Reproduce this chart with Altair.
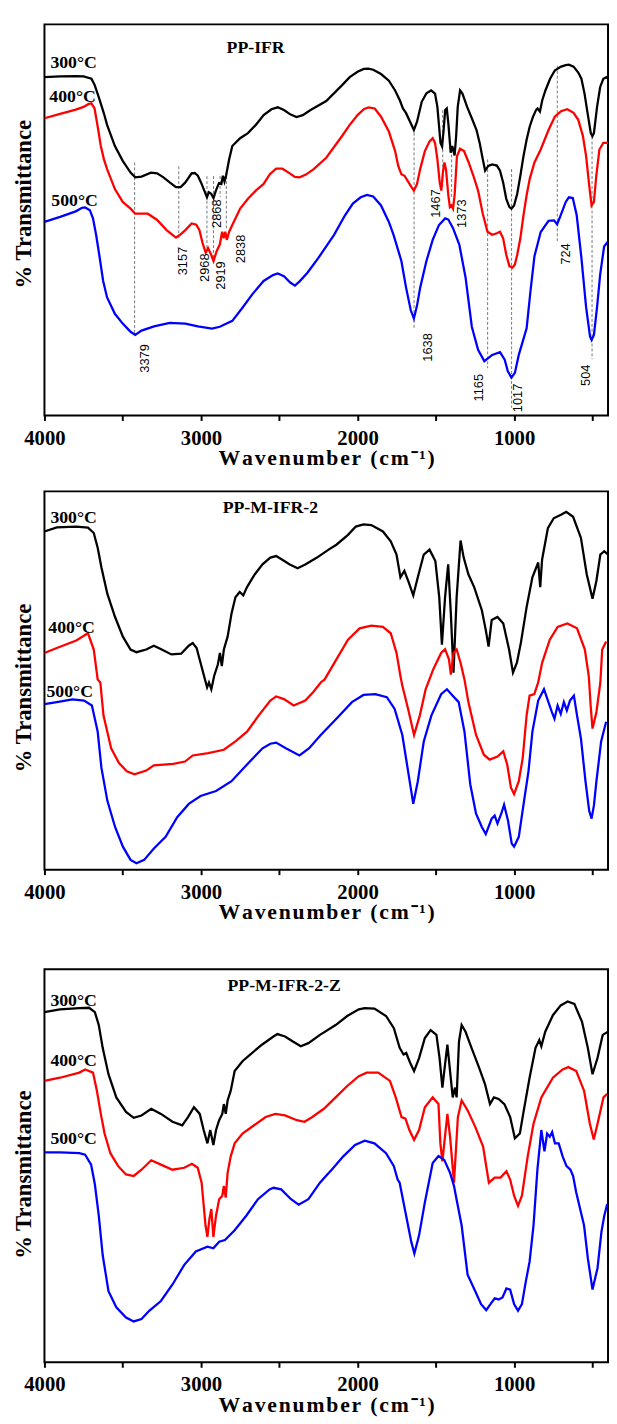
import altair as alt
import pandas as pd

SERIF = "Liberation Serif"
SANS = "Liberation Sans"
TEMPS = ["300°C", "400°C", "500°C"]
COLORS = ["#000000", "#ff0000", "#0000ff"]

# ---------------- Panel 1: PP-IFR  (wavenumber, %T) ----------------
p1_300 = [(4000,86.5),(3900,86.7),(3800,86.8),(3750,86.7),(3700,86.1),(3680,84.6),(3650,81.0),(3620,77.2),(3600,74.3),(3550,68.9),
          (3500,65.1),(3450,62.1),(3420,60.9),(3380,61.1),(3320,62.1),(3280,61.9),(3240,60.9),(3200,59.6),(3160,58.4),(3130,58.4),
          (3100,59.6),(3060,61.9),(3040,62.0),(3020,61.3),(3000,59.6),(2975,57.1),(2962,55.8),(2950,57.1),(2935,56.7),(2920,55.6),
          (2905,57.5),(2885,59.4),(2870,59.2),(2860,61.3),(2850,59.8),(2840,61.3),(2820,65.5),(2800,68.9),(2750,70.9),(2700,72.2),
          (2650,74.3),(2600,76.8),(2550,78.3),(2510,78.8),(2470,78.1),(2430,77.0),(2390,76.3),(2350,76.8),(2300,78.1),(2200,80.4),
          (2100,84.4),(2050,86.5),(2000,87.9),(1960,88.6),(1930,88.7),(1900,88.4),(1850,87.3),(1800,85.6),(1760,83.1),(1730,80.6),
          (1710,78.5),(1690,77.3),(1660,74.7),(1640,73.0),(1620,75.1),(1590,80.2),(1560,82.4),(1530,83.1),(1505,82.3),(1490,78.9),
          (1470,69.7),(1460,68.8),(1450,73.0),(1440,78.1),(1430,78.5),(1420,74.7),(1405,67.2),(1395,68.9),(1380,66.5),(1370,71.5),
          (1360,78.9),(1345,83.1),(1330,82.3),(1300,78.9),(1270,76.0),(1240,73.0),(1220,69.7),(1200,65.5),(1185,62.6),(1165,63.8),
          (1140,64.2),(1110,63.9),(1090,62.6),(1070,59.6),(1050,55.4),(1030,53.3),(1017,52.9),(1000,53.7),(980,56.7),(960,61.3),
          (940,66.3),(920,70.5),(900,73.9),(880,76.3),(860,78.1),(850,78.5),(835,77.7),(820,80.6),(800,83.1),(770,86.1),
          (740,88.2),(700,89.2),(670,89.6),(650,89.7),(620,89.2),(590,87.7),(570,86.1),(550,82.3),(530,77.2),(510,72.2),
          (500,71.4),(490,72.2),(470,78.9),(450,84.0),(430,86.1),(410,86.5),(400,86.1)]

p1_400 = [(4000,76.0),(3900,77.1),(3800,78.2),(3750,78.9),(3720,79.6),(3700,79.8),(3680,78.5),(3660,73.9),(3640,68.9),(3620,65.5),
          (3600,63.0),(3550,57.9),(3500,54.6),(3450,52.9),(3420,51.6),(3380,51.6),(3340,51.6),(3280,50.0),(3220,47.4),(3160,45.5),
          (3130,46.3),(3100,47.4),(3060,49.1),(3030,48.8),(3010,47.4),(2990,44.1),(2970,41.6),(2955,42.8),(2935,41.1),(2920,39.5),
          (2900,42.0),(2880,43.7),(2865,47.0),(2855,45.3),(2845,47.0),(2835,44.9),(2820,47.0),(2800,48.7),(2750,52.9),(2700,55.4),
          (2650,57.5),(2600,59.2),(2560,61.7),(2520,63.1),(2480,63.1),(2440,62.1),(2400,61.0),(2370,60.9),(2330,61.6),(2280,63.0),
          (2200,65.9),(2100,71.4),(2050,74.3),(2000,76.8),(1960,78.3),(1930,78.8),(1890,78.5),(1850,76.4),(1800,72.6),(1760,67.6),
          (1740,63.8),(1720,61.7),(1700,61.3),(1680,60.0),(1655,58.4),(1640,57.5),(1620,59.2),(1600,63.0),(1570,67.6),(1540,70.1),
          (1520,70.9),(1505,69.7),(1490,65.5),(1475,59.6),(1465,57.5),(1455,62.1),(1445,64.7),(1435,62.9),(1420,56.3),(1410,53.3),
          (1400,53.7),(1390,52.9),(1380,56.3),(1365,66.3),(1345,68.2),(1320,67.6),(1290,64.7),(1260,61.3),(1230,57.5),(1200,51.6),
          (1170,47.0),(1140,46.2),(1110,46.6),(1090,47.0),(1070,45.3),(1050,41.1),(1030,38.2),(1010,37.8),(995,38.6),(980,41.1),
          (960,45.3),(940,51.2),(920,56.3),(900,60.5),(870,64.7),(830,68.0),(780,73.0),(740,76.4),(700,77.8),(660,78.3),
          (620,77.4),(590,75.6),(560,71.4),(540,66.3),(520,58.8),(505,53.7),(490,54.6),(475,61.3),(455,68.0),(430,69.7),(400,69.7)]

p1_500 = [(4000,49.5),(3900,50.8),(3800,52.2),(3760,53.1),(3740,53.2),(3710,52.5),(3690,50.4),(3670,46.2),(3650,41.1),(3625,34.4),
          (3600,30.2),(3550,26.0),(3500,23.5),(3450,21.4),(3420,20.6),(3380,21.7),(3300,22.8),(3200,23.7),(3100,23.5),(3020,22.8),
          (2930,22.2),(2880,22.7),(2800,24.2),(2740,27.3),(2670,31.1),(2600,34.4),(2540,35.9),(2510,36.3),(2470,35.6),(2430,34.0),
          (2400,33.2),(2370,34.3),(2320,36.5),(2250,40.3),(2150,46.2),(2080,51.2),(2030,54.2),(1980,55.8),(1940,56.4),(1900,56.0),
          (1850,53.7),(1800,49.5),(1770,46.2),(1720,39.5),(1690,32.7),(1660,26.9),(1640,24.8),(1620,28.1),(1600,32.7),(1560,39.5),
          (1520,44.9),(1480,48.7),(1440,50.4),(1420,50.1),(1390,47.9),(1350,43.7),(1310,35.3),(1270,22.7),(1230,16.8),(1190,13.9),
          (1140,15.5),(1090,16.2),(1060,14.3),(1040,11.3),(1017,9.7),(995,10.9),(970,15.5),(945,18.9),(920,22.3),(895,31.9),
          (870,40.7),(830,46.9),(780,49.8),(745,49.9),(725,48.9),(705,50.9),(670,54.6),(650,55.8),(625,55.6),(600,51.2),
          (570,40.3),(540,27.7),(515,20.2),(505,19.3),(490,20.6),(470,27.7),(450,36.1),(425,43.2),(400,44.5)]

# peak-marker lines (wavenumber, top %T, bottom %T) and their labels (wavenumber, %T, text)
p1_marks = [(3424,64.7,20.7),(3142,63.7,45.3),(2962,61.2,42.8),(2920,61.2,40.3),(2878,61.2,55.9),(2838,61.2,47.4),
            (1639,72.3,22.2),(1456,78.1,58.4),(1399,68.0,55.9),(1169,65.5,12.1),(1016,63.0,2.0),(724,89.4,44.6),(502,71.3,14.4)]
p1_notes = [(3360,14.6,"3379"),(3115,39.5,"3157"),(2977,37.8,"2968"),(2871,35.8,"2919"),(2896,51.6,"2868"),(2745,42.6,"2838"),
            (1547,17.4,"1638"),(1221,7.1,"1165"),(976,4.5,"1017"),(543,10.3,"504"),(669,41.3,"724"),(1497,54.2,"1467"),(1334,51.6,"1373")]
p1_temp_pos = [(3962,90.2),(3969,81.4),(3956,54.9)]
p1_title = (2651, 94.0, "PP-IFR")

# ---------------- Panel 2: PP-M-IFR-2 ----------------
p2_300 = [(4000,89.4),(3921,90.5),(3797,90.7),(3722,90.4),(3685,89.0),(3660,85.1),(3636,79.9),(3598,72.9),(3549,66.8),(3499,61.6),
          (3450,58.2),(3412,57.5),(3350,58.2),(3301,59.2),(3251,58.2),(3189,56.9),(3127,57.1),(3078,59.2),(3053,59.9),(3028,58.6),
          (3003,54.7),(2978,50.8),(2961,48.2),(2949,49.5),(2934,47.7),(2916,51.2),(2892,54.3),(2879,57.3),(2867,53.8),(2854,58.2),
          (2830,61.6),(2805,67.7),(2780,72.0),(2753,73.4),(2730,72.5),(2706,74.7),(2656,78.1),(2607,80.7),(2557,82.5),(2520,82.9),
          (2483,82.0),(2433,80.7),(2383,79.7),(2334,80.7),(2259,82.5),(2185,84.6),(2135,85.9),(2061,88.5),(2011,90.7),(1962,91.3),
          (1912,91.1),(1838,89.4),(1788,86.8),(1751,83.3),(1726,77.3),(1701,79.0),(1677,76.4),(1644,72.5),(1615,77.3),(1577,83.3),
          (1540,84.6),(1503,81.6),(1478,72.0),(1461,59.5),(1441,72.0),(1421,80.7),(1404,67.7),(1387,52.1),(1367,72.0),(1342,87.0),
          (1322,82.5),(1292,78.1),(1255,74.7),(1206,68.6),(1181,63.4),(1163,59.0),(1143,66.0),(1106,66.8),(1069,65.1),(1032,58.2),
          (1007,52.1),(982,54.7),(957,59.9),(920,69.4),(883,77.3),(846,81.2),(833,74.7),(821,82.0),(784,90.3),(747,92.9),
          (697,93.9),(667,94.6),(623,93.3),(573,87.7),(536,78.1),(499,71.6),(474,76.4),(449,83.3),(424,84.2),(400,83.3)]

p2_400 = [(4000,57.3),(3921,58.6),(3797,60.6),(3722,62.5),(3685,58.2),(3660,50.3),(3643,49.5),(3623,40.8),(3574,32.1),(3524,28.2),
          (3474,26.0),(3425,25.2),(3350,26.2),(3301,27.6),(3177,28.0),(3102,28.6),(3053,30.2),(2954,30.8),(2854,31.7),(2780,33.9),
          (2706,36.5),(2631,40.8),(2557,44.7),(2520,45.8),(2470,45.1),(2408,43.4),(2334,44.7),(2284,46.9),(2235,49.5),(2210,50.3),
          (2135,55.6),(2061,60.8),(1987,63.8),(1912,64.5),(1838,64.2),(1788,62.5),(1751,57.3),(1726,51.2),(1714,48.6),(1677,42.5),
          (1639,35.6),(1602,40.8),(1565,47.7),(1516,53.0),(1466,57.3),(1441,58.3),(1416,55.6),(1404,51.6),(1387,57.3),(1367,58.2),
          (1342,54.7),(1317,50.3),(1292,44.3),(1243,35.6),(1193,30.4),(1156,29.1),(1106,29.9),(1069,31.3),(1044,27.8),(1020,21.7),
          (1000,20.0),(970,23.4),(945,29.5),(920,40.8),(901,46.0),(871,46.4),(846,49.5),(821,54.7),(772,60.8),(722,64.2),
          (660,65.1),(598,63.8),(548,58.2),(523,51.2),(511,43.4),(499,37.3),(474,41.7),(449,49.5),(437,58.2),(412,60.3)]

p2_500 = [(4000,43.8),(3921,44.3),(3821,45.0),(3747,44.7),(3697,43.4),(3660,36.5),(3636,26.9),(3598,18.2),(3549,11.3),(3499,6.1),
          (3450,2.6),(3412,1.7),(3363,2.6),(3301,5.6),(3226,8.7),(3152,13.9),(3078,17.4),(3003,19.5),(2904,20.8),(2805,23.4),
          (2706,27.8),(2607,32.1),(2557,33.3),(2520,33.6),(2458,32.1),(2371,30.2),(2309,32.1),(2235,35.6),(2135,39.9),(2036,44.3),
          (1962,46.2),(1887,46.4),(1813,45.6),(1763,42.5),(1714,35.6),(1677,26.0),(1644,17.4),(1615,23.4),(1577,33.9),(1528,40.8),
          (1466,46.4),(1429,47.7),(1392,46.0),(1354,44.3),(1317,36.5),(1280,22.6),(1243,14.8),(1206,11.3),(1181,9.4),(1143,13.5),
          (1124,14.3),(1106,12.2),(1082,14.8),(1064,17.2),(1039,13.0),(1015,6.9),(1000,6.1),(970,8.7),(933,19.1),(908,26.0),
          (883,36.5),(846,44.7),(809,47.7),(784,44.7),(759,41.7),(742,39.9),(722,43.4),(702,41.2),(682,44.3),(663,42.1),
          (643,44.7),(618,46.0),(598,40.8),(573,34.7),(544,23.4),(520,15.5),(505,13.5),(490,17.0),(474,23.4),(444,33.9),(412,39.1)]

p2_temp_pos = [(3962,93.0),(3975,63.8),(3987,46.9)]
p2_title = (2557, 95.6, "PP-M-IFR-2")

# ---------------- Panel 3: PP-M-IFR-2-Z ----------------
p3_300 = [(4000,89.1),(3901,89.8),(3777,90.1),(3715,90.2),(3678,89.1),(3653,85.8),(3628,80.0),(3591,73.3),(3541,67.4),(3479,63.7),
          (3430,62.2),(3380,62.8),(3318,64.5),(3256,63.2),(3182,61.2),(3120,60.3),(3083,62.4),(3045,64.9),(3008,63.2),(2983,59.1),
          (2959,55.7),(2941,59.1),(2921,55.3),(2904,59.1),(2884,61.6),(2864,63.2),(2854,65.7),(2842,63.2),(2830,66.6),(2810,69.1),
          (2785,74.1),(2735,76.6),(2686,78.3),(2611,80.8),(2537,82.9),(2512,83.5),(2463,82.9),(2413,81.6),(2363,80.4),(2314,81.2),
          (2240,83.3),(2140,85.8),(2066,88.1),(1992,89.8),(1954,90.1),(1892,90.0),(1818,88.1),(1768,85.0),(1731,80.0),(1706,78.3),
          (1689,78.7),(1664,76.2),(1639,74.1),(1607,77.4),(1570,82.5),(1533,84.5),(1496,83.3),(1476,77.4),(1458,69.9),(1441,75.8),
          (1426,80.8),(1409,74.1),(1392,67.4),(1377,69.9),(1367,67.4),(1352,81.6),(1335,85.8),(1310,84.1),(1272,80.0),(1223,74.9),
          (1186,70.8),(1154,65.7),(1129,67.4),(1099,67.0),(1062,65.7),(1025,62.4),(995,57.0),(963,58.2),(938,64.1),(901,72.4),
          (863,80.0),(839,82.0),(826,80.4),(801,84.1),(752,88.3),(702,90.8),(658,91.8),(615,91.2),(566,86.6),(529,80.0),
          (499,73.3),(467,77.4),(434,83.3),(400,84.1)]

p3_400 = [(4000,71.6),(3901,72.4),(3777,73.7),(3740,74.5),(3690,73.7),(3665,69.1),(3640,63.2),(3616,58.2),(3579,53.2),(3529,49.9),
          (3479,47.8),(3430,47.4),(3380,49.0),(3318,51.4),(3256,50.3),(3182,49.0),(3107,49.5),(3058,50.5),(3021,49.5),(2996,45.7),
          (2971,34.8),(2959,31.9),(2946,36.5),(2934,39.0),(2921,31.9),(2904,37.3),(2884,41.5),(2864,42.4),(2854,44.9),(2842,41.9),
          (2830,48.2),(2810,52.4),(2785,55.7),(2735,58.2),(2661,60.3),(2587,62.4),(2525,63.2),(2463,62.8),(2388,61.6),(2339,61.2),
          (2289,62.4),(2215,64.5),(2140,67.4),(2066,70.3),(1992,72.8),(1942,73.7),(1868,73.7),(1793,71.6),(1756,67.4),(1719,62.4),
          (1694,62.0),(1669,59.1),(1639,56.6),(1607,59.1),(1570,64.9),(1520,67.4),(1483,65.7),(1471,55.7),(1458,51.1),(1446,55.7),
          (1426,63.2),(1409,57.4),(1384,45.7),(1359,62.4),(1335,66.6),(1297,64.1),(1248,59.9),(1198,54.9),(1161,45.7),(1124,47.0),
          (1087,47.0),(1049,48.6),(1025,46.5),(1000,42.4),(975,39.8),(950,42.4),(913,52.4),(876,60.7),(826,67.4),(752,72.4),
          (690,74.5),(653,75.1),(603,74.1),(553,69.1),(516,60.7),(491,56.7),(467,60.7),(429,67.4),(405,68.3)]

p3_500 = [(4000,53.4),(3901,53.4),(3777,53.2),(3740,52.8),(3702,50.3),(3678,45.3),(3653,37.3),(3628,27.3),(3591,18.1),(3541,14.0),
          (3479,11.4),(3430,10.4),(3380,11.0),(3331,13.1),(3256,15.6),(3182,19.8),(3107,24.8),(3033,28.2),(2959,29.4),(2921,29.0),
          (2884,30.7),(2847,31.1),(2785,33.6),(2711,37.3),(2636,41.5),(2562,44.0),(2537,44.4),(2488,44.0),(2425,41.5),(2376,40.1),
          (2314,41.5),(2240,45.7),(2202,47.4),(2165,49.0),(2091,52.4),(2016,55.3),(1954,56.4),(1892,55.7),(1818,53.2),(1768,49.9),
          (1744,46.5),(1731,45.7),(1694,38.2),(1657,30.7),(1637,27.7),(1607,32.3),(1570,40.7),(1545,45.7),(1520,50.7),(1483,52.5),
          (1446,51.5),(1409,48.2),(1384,44.9),(1372,42.4),(1335,34.8),(1297,22.3),(1248,18.1),(1211,14.8),(1178,13.3),(1144,15.2),
          (1124,16.3),(1099,16.0),(1074,16.5),(1049,18.8),(1025,18.5),(1000,14.8),(975,13.1),(950,14.8),(925,20.6),(901,25.6),
          (876,34.8),(851,49.0),(826,59.1),(806,53.7),(789,58.2),(772,57.4),(757,58.6),(739,55.7),(715,55.7),(690,52.4),
          (665,49.9),(640,49.0),(623,47.4),(603,43.2),(578,39.0),(553,34.8),(529,26.5),(499,18.5),(467,24.0),(442,33.2),
          (424,37.3),(405,40.3)]

p3_temp_pos = [(3962,92.0),(3962,76.7),(3962,56.9)]
p3_title = (2469, 95.7, "PP-M-IFR-2-Z")

X_TICKS = [4000, 3500, 3000, 2500, 2000, 1500, 1000, 500]
X_TITLE = "\u200a".join("Wavenumber (cm⁻¹)")


def panel(series, temp_pos, title, height, ytitle_y, xtitle, xtitle_pad, marks=None, notes=None):
    xs = alt.Scale(domain=[4000, 400], nice=False, zero=False)
    ys = alt.Scale(domain=[0, 100], nice=False, zero=False)
    xaxis = alt.Axis(values=X_TICKS, labelExpr="datum.value % 1000 === 0 ? format(datum.value, 'd') : ''",
                     labelFont=SERIF, labelFontSize=21, labelFontWeight="bold", labelColor="black",
                     labelPadding=7, labelFlush=False, labelOverlap=False,
                     tickSize=5, tickWidth=2, tickColor="black", domain=False, grid=False,
                     title=xtitle, titleFont=SERIF, titleFontSize=22, titleFontWeight="bold",
                     titleColor="black", titlePadding=xtitle_pad, titleLineHeight=24)
    yaxis = alt.Axis(labels=False, ticks=False, domain=False, grid=False, title="% Transmittance",
                     titleFont=SERIF, titleFontSize=23, titleFontWeight="bold", titleColor="black",
                     titlePadding=9, titleY=ytitle_y)

    def X(f):
        return alt.X(f, type="quantitative", scale=xs, axis=xaxis)

    def Y(f):
        return alt.Y(f, type="quantitative", scale=ys, axis=yaxis)

    rows = []
    for name, pts in zip(TEMPS, series):
        for w, t in pts:
            rows.append({"w": w, "t": t, "s": name})
    df = pd.DataFrame(rows)

    layers = []
    if marks:
        mdf = pd.DataFrame(marks, columns=["w", "t", "t2"])
        layers.append(alt.Chart(mdf).mark_rule(strokeDash=[3, 2], strokeWidth=0.8, color="#555555")
                      .encode(x=X("w"), y=Y("t"), y2="t2"))
    lines = alt.Chart(df).mark_line(strokeWidth=2.3, clip=True).encode(
        x=X("w"), y=Y("t"),
        color=alt.Color("s:N", scale=alt.Scale(domain=TEMPS, range=COLORS), legend=None))
    layers.append(lines)
    if notes:
        ndf = pd.DataFrame(notes, columns=["w", "t", "label"])
        layers.append(alt.Chart(ndf).mark_text(angle=270, align="center", baseline="middle", font=SANS,
                                               fontSize=13, color="black")
                      .encode(x=X("w"), y=Y("t"), text="label:N"))
    tdf = pd.DataFrame([{"w": w, "t": t, "label": lab} for (w, t), lab in zip(temp_pos, TEMPS)])
    layers.append(alt.Chart(tdf).mark_text(align="left", baseline="middle", font=SERIF, fontSize=18,
                                           fontWeight="bold", color="black")
                  .encode(x=X("w"), y=Y("t"), text="label:N"))
    hdf = pd.DataFrame([{"w": title[0], "t": title[1], "label": title[2]}])
    layers.append(alt.Chart(hdf).mark_text(align="center", baseline="middle", font=SERIF, fontSize=18,
                                           fontWeight="bold", color="black")
                  .encode(x=X("w"), y=Y("t"), text="label:N"))
    return alt.layer(*layers).properties(
        width=572, height=height,
        view=alt.ViewBackground(stroke="black", strokeWidth=2, fill="white"))


c1 = panel([p1_300, p1_400, p1_500], p1_temp_pos, p1_title, 397, 182, X_TITLE, 0,
           marks=p1_marks, notes=p1_notes)
c2 = panel([p2_300, p2_400, p2_500], p2_temp_pos, p2_title, 384, 199, [X_TITLE, " "], 0)
c3 = panel([p3_300, p3_400, p3_500], p3_temp_pos, p3_title, 399, 208, X_TITLE, 0)

chart = (alt.vconcat(c1, c2, c3, spacing=21)
         .properties(padding={"left": 4, "top": 5, "right": 0, "bottom": 0}, background="white")
         .configure_view(stroke="black", strokeWidth=2))

chart.save("out.html", embed_options={"renderer": "svg", "actions": False})
